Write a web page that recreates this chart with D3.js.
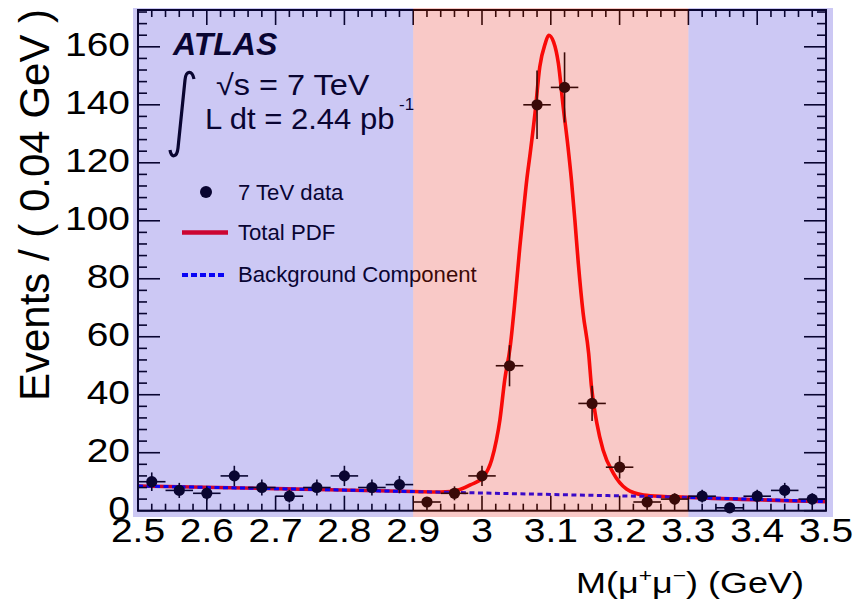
<!DOCTYPE html>
<html><head><meta charset="utf-8">
<script src="https://cdn.jsdelivr.net/npm/d3@7"></script>
<style>
body{margin:0;background:#fff}
svg{display:block}
text{font-family:"Liberation Sans",Arial,sans-serif}
</style>
</head><body>
<svg id="c" width="855" height="605"></svg>
<script>
// ---- data ----
const binCenters = [2.52,2.56,2.60,2.64,2.68,2.72,2.76,2.80,2.84,2.88,2.92,2.96,3.00,3.04,3.08,3.12,3.16,3.20,3.24,3.28,3.32,3.36,3.40,3.44,3.48];
const counts     = [10,7,6,12,8,5,8,12,8,9,3,6,12,50,140,146,37,15,3,4,5,1,5,7,4];
const errors     = [3.2,2.6,2.4,3.5,2.8,2.2,2.8,3.5,2.8,3.0,1.7,2.4,3.5,7.1,11.8,12.1,6.1,3.9,1.7,2.0,2.2,1.0,2.2,2.6,2.0];
const binHalfWidth = 0.02;

const bkgMass = [2.5,2.7,2.9,3.1,3.3,3.5];
const bkgVal  = [8.5,7.6,6.6,5.6,4.6,3.1];

const pdfMass = [2.5,2.7,2.9,2.94,2.954,2.968,2.983,3.002,3.014,3.021,3.026,3.033,3.041,3.048,3.055,3.060,3.065,3.070,3.077,3.084,3.092,3.097,3.104,3.111,3.118,3.125,3.130,3.135,3.140,3.147,3.155,3.159,3.167,3.176,3.191,3.210,3.235,3.264,3.290,3.300,3.500];
const pdfVal  = [8.5,7.6,6.6,6.45,6.6,7.3,8.9,11.7,17.5,24.4,31.3,45.1,56.6,72.7,91.0,102.6,114.0,123.2,137.0,153.1,161.2,164.0,161.7,154.3,139.3,125.5,114.0,100.2,85.3,68.1,54.3,43.0,30.1,20.9,12.9,7.5,5.4,4.9,4.7,4.6,3.1];

const regionEdges = [2.5,2.9,3.3,3.5];
const regionKinds = ["side","signal","side"];

const xTickVals = [2.5,2.6,2.7,2.8,2.9,3.0,3.1,3.2,3.3,3.4,3.5];
const xTickLabels = ["2.5","2.6","2.7","2.8","2.9","3","3.1","3.2","3.3","3.4","3.5"];
const yTickVals = [0,20,40,60,80,100,120,140,160];
const yTickLabels = ["0","20","40","60","80","100","120","140","160"];

const legendLabels = ["7 TeV data","Total PDF","Background Component"];

// ---- drawing ----
const svg = d3.select("#c");
svg.append("rect").attr("width",855).attr("height",605).attr("fill","#fff");

const x = d3.scaleLinear().domain([2.5,3.5]).range([138,826]);
const y = d3.scaleLinear().domain([0,172.7]).range([510.7,10]);

const plot = svg.append("g");

// curves
const pdfData = pdfMass.map((m,i)=>[m,pdfVal[i]]);
const bkgData = bkgMass.map((m,i)=>[m,bkgVal[i]]);
const line = d3.line().x(d=>x(d[0])).y(d=>y(d[1])).curve(d3.curveMonotoneX);

plot.append("path").attr("d",line(pdfData)).attr("fill","none")
  .attr("stroke","#ff0000").attr("stroke-width",3.6);
plot.append("path").attr("d",line(bkgData)).attr("fill","none")
  .attr("stroke","#0000ff").attr("stroke-width",3).attr("stroke-dasharray","5,3.5");

// data points
const pts = plot.append("g").attr("stroke","#000").attr("stroke-width",1.6);
binCenters.forEach((c,i)=>{
  pts.append("line").attr("x1",x(c-binHalfWidth)).attr("x2",x(c+binHalfWidth))
    .attr("y1",y(counts[i])).attr("y2",y(counts[i]));
  pts.append("line").attr("x1",x(c)).attr("x2",x(c))
    .attr("y1",y(Math.max(0,counts[i]-errors[i]))).attr("y2",y(counts[i]+errors[i]));
  pts.append("circle").attr("cx",x(c)).attr("cy",y(counts[i])).attr("r",5.6)
    .attr("fill","#000").attr("stroke","none");
});

// axes (ticks inside frame, ROOT style)
const ax = svg.append("g").attr("stroke","#000").attr("stroke-width",1.6);
const xMinor = d3.range(0,51).map(i=>2.5+i*0.02);
xMinor.forEach(v=>{
  const major = Math.abs(Math.round(v*10)-v*10)<1e-6;
  const L = major?15:7;
  ax.append("line").attr("x1",x(v)).attr("x2",x(v)).attr("y1",y(0)).attr("y2",y(0)-L);
  ax.append("line").attr("x1",x(v)).attr("x2",x(v)).attr("y1",y(172.7)).attr("y2",y(172.7)+L);
});
const yMinor = d3.range(0,44).map(i=>i*4);
yMinor.forEach(v=>{
  const major = v%20===0;
  const L = major?22:9;
  ax.append("line").attr("y1",y(v)).attr("y2",y(v)).attr("x1",x(2.5)).attr("x2",x(2.5)+L);
  ax.append("line").attr("y1",y(v)).attr("y2",y(v)).attr("x1",x(3.5)).attr("x2",x(3.5)-L);
});
svg.append("rect").attr("x",x(2.5)).attr("y",y(172.7)).attr("width",x(3.5)-x(2.5))
  .attr("height",y(0)-y(172.7)).attr("fill","none").attr("stroke","#000").attr("stroke-width",2);

// ATLAS label
svg.append("text").attr("x",173).attr("y",55).attr("font-size",32)
  .attr("font-weight","bold").attr("font-style","italic").attr("fill","#000").text("ATLAS");
svg.append("path").attr("d","M194,79 C192,70 186,70 185,80 L178,148 C177,158 171,158 170,150")
  .attr("fill","none").attr("stroke","#000").attr("stroke-width",3.2);
svg.append("text").attr("transform","translate(216,95) scale(1.12,1)").attr("font-size",29).attr("fill","#000").text("\u221As = 7 TeV");
svg.append("text").attr("transform","translate(205,129) scale(1.07,1)").attr("font-size",29).attr("fill","#000").text("L dt = 2.44 pb");
svg.append("text").attr("x",399).attr("y",110).attr("font-size",17).attr("fill","#000").text("-1");

// legend
svg.append("circle").attr("cx",206).attr("cy",192).attr("r",6).attr("fill","#000");
svg.append("line").attr("x1",182).attr("x2",228).attr("y1",232.5).attr("y2",232.5)
  .attr("stroke","#ff0000").attr("stroke-width",4.5);
svg.append("line").attr("x1",182).attr("x2",226).attr("y1",275).attr("y2",275)
  .attr("stroke","#0000ff").attr("stroke-width",4).attr("stroke-dasharray","6,3");
[200,240,281.5].forEach((yy,i)=>{
  svg.append("text").attr("transform",`translate(238,${yy}) scale(1.03,1)`).attr("font-size",21.5).attr("fill","#000").text(legendLabels[i]);
});

// coloured overlays
regionKinds.forEach((k,i)=>{
  const x0 = i===0 ? x(regionEdges[0])-5 : x(regionEdges[i]);
  const x1 = i===regionKinds.length-1 ? x(regionEdges[i+1])+7 : x(regionEdges[i+1]);
  svg.append("rect").attr("x",x0).attr("y",8).attr("width",x1-x0).attr("height",509)
    .attr("fill", k==="side" ? "rgb(40,20,210)" : "rgb(230,40,30)")
    .attr("fill-opacity", k==="side" ? 0.235 : 0.25);
});

// tick labels
xTickVals.forEach((v,i)=>{
  svg.append("text").attr("transform",`translate(${x(v)},542) scale(1.18,1)`)
    .attr("text-anchor","middle").attr("font-size",33).attr("fill","#000").text(xTickLabels[i]);
});
yTickVals.forEach((v,i)=>{
  svg.append("text").attr("transform",`translate(130,${y(v)-2}) scale(1.18,1)`)
    .attr("text-anchor","end").attr("dy","0.35em").attr("font-size",33).attr("fill","#000").text(yTickLabels[i]);
});

// axis titles
const xt = svg.append("text").attr("transform","translate(576,593) scale(1.2,1)")
  .attr("font-size",30).attr("fill","#000");
xt.append("tspan").text("M(\u03BC");
xt.append("tspan").attr("font-size",19).attr("dy",-11).text("+");
xt.append("tspan").attr("dy",11).text("\u03BC");
xt.append("tspan").attr("font-size",19).attr("dy",-11).text("\u2212");
xt.append("tspan").attr("dy",11).text(") (GeV)");

svg.append("text").attr("transform","translate(49,205) rotate(-90)")
  .attr("text-anchor","middle").attr("font-size",42).attr("fill","#000")
  .text("Events / ( 0.04 GeV )");
</script>
</body></html>
